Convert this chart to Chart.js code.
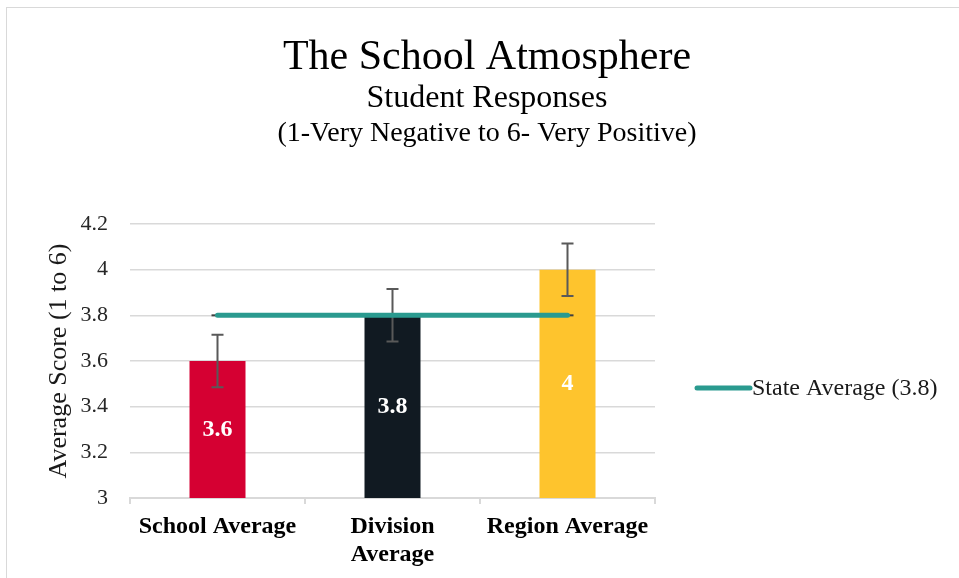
<!DOCTYPE html>
<html>
<head>
<meta charset="utf-8">
<script src="https://cdn.jsdelivr.net/npm/chart.js@4.4.1/dist/chart.umd.min.js"></script>
<style>
    html, body { margin: 0; padding: 0; background: #fff; overflow: hidden; }
    #frame {
        position: absolute; left: 6px; top: 7px;
        width: 962px; height: 580px;
        border: 1px solid #d9d9d9; box-sizing: border-box;
    }
    #chart { display: block; }
</style>
</head>
<body>
<div id="frame"><canvas id="chart" width="960" height="578"></canvas></div>
<script>
const categories = ['School Average', ['Division', 'Average'], 'Region Average'];
const averageScores = [3.6, 3.8, 4.0];
const errorAmounts = [0.115, 0.115, 0.115];
const stateAverage = [3.8, 3.8, 3.8];
const barColors = ['#d50032', '#111a22', '#fec42d'];
const stateLabel = 'State Average (3.8)';
const scaleNote = '(1-Very Negative to 6- Very Positive)';

const serif = '"Liberation Serif", "Times New Roman", serif';

const extrasPlugin = {
    id: 'extras',
    // whiskers go on after the bars but under the state line
    afterDatasetDraw(chart, args) {
        if (args.index !== 1) return;
        const ctx = chart.ctx;
        const yScale = chart.scales.y;
        const bars = chart.getDatasetMeta(1).data;
        const points = chart.getDatasetMeta(0).data;
        ctx.save();
        ctx.strokeStyle = '#595959';
        ctx.lineWidth = 2;
        bars.forEach((bar, i) => {
            const top = yScale.getPixelForValue(averageScores[i] + errorAmounts[i]);
            const bottom = yScale.getPixelForValue(averageScores[i] - errorAmounts[i]);
            ctx.beginPath();
            ctx.moveTo(bar.x, top);
            ctx.lineTo(bar.x, bottom);
            ctx.moveTo(bar.x - 6, top);
            ctx.lineTo(bar.x + 6, top);
            ctx.moveTo(bar.x - 6, bottom);
            ctx.lineTo(bar.x + 6, bottom);
            ctx.stroke();
        });
        // zero-size caps on the state line
        ctx.strokeStyle = '#404040';
        [points[0], points[points.length - 1]].forEach((p) => {
            ctx.beginPath();
            ctx.moveTo(p.x - 6, p.y);
            ctx.lineTo(p.x + 6, p.y);
            ctx.stroke();
        });
        ctx.restore();
    },
    afterDraw(chart) {
        const ctx = chart.ctx;
        const yScale = chart.scales.y;
        const bars = chart.getDatasetMeta(1).data;
        const base = yScale.getPixelForValue(yScale.min);
        ctx.save();

        // value labels inside bars
        ctx.fillStyle = '#ffffff';
        ctx.font = 'bold 24px ' + serif;
        ctx.textAlign = 'center';
        ctx.textBaseline = 'middle';
        bars.forEach((bar, i) => {
            const top = yScale.getPixelForValue(averageScores[i]);
            ctx.fillText(String(averageScores[i]), bar.x, (top + base) / 2);
        });

        // third title line
        ctx.fillStyle = '#000';
        ctx.font = '28px ' + serif;
        ctx.textBaseline = 'alphabetic';
        ctx.fillText(scaleNote, chart.width / 2, 133);

        // legend for the state line
        const area = chart.chartArea;
        const lx = area.right + 42;
        const ly = 380;
        ctx.strokeStyle = '#2a9a8f';
        ctx.lineWidth = 5;
        ctx.lineCap = 'round';
        ctx.beginPath();
        ctx.moveTo(lx, ly);
        ctx.lineTo(lx + 53, ly);
        ctx.stroke();
        ctx.fillStyle = '#1a1a1a';
        ctx.font = '24px ' + serif;
        ctx.textAlign = 'left';
        ctx.textBaseline = 'middle';
        ctx.fillText(stateLabel, lx + 55, ly + 1);
        ctx.restore();
    }
};

const chartCanvas = document.getElementById('chart');
const chartConfig = {
    type: 'bar',
    data: {
        labels: categories,
        datasets: [{
            type: 'line',
            label: stateLabel,
            data: stateAverage,
            borderColor: '#2a9a8f',
            borderWidth: 5,
            borderCapStyle: 'round',
            pointRadius: 0,
            order: 0,
        }, {
            label: 'Average Score',
            data: averageScores,
            backgroundColor: barColors,
            categoryPercentage: 1,
            barPercentage: 0.32,
            order: 1,
        }],
    },
    options: {
        responsive: false,
        animation: {
            duration: 0,
        },
        layout: {
            padding: 0,
        },
        scales: {
            x: {
                afterFit: (scale) => { scale.height = 88; },
                grid: {
                    drawOnChartArea: false,
                    color: '#d9d9d9',
                    lineWidth: 2,
                    tickLength: 6,
                },
                border: { color: '#d9d9d9', width: 2 },
                ticks: {
                    color: '#000',
                    font: { family: serif, size: 24, weight: 'bold', lineHeight: 1.15 },
                    maxRotation: 0,
                    padding: 9,
                },
            },
            y: {
                min: 3,
                max: 4.2,
                afterFit: (scale) => { scale.width = 123; },
                ticks: {
                    stepSize: 0.2,
                    color: '#262626',
                    font: { family: serif, size: 22 },
                    padding: 22,
                    callback: (value) => String(+value.toFixed(1)),
                },
                grid: {
                    color: '#d9d9d9',
                    lineWidth: 1.5,
                    drawTicks: false,
                },
                border: { display: false },
                title: {
                    display: true,
                    text: 'Average Score (1 to 6)',
                    color: '#1a1a1a',
                    font: { family: serif, size: 26 },
                    padding: { top: 37, bottom: 0 },
                },
            },
            // empty axis that keeps room for the legend on the right
            spacer: {
                type: 'linear',
                position: 'right',
                afterFit: (scale) => { scale.width = 312; },
                ticks: { display: false },
                grid: { display: false },
                border: { display: false },
            },
        },
        plugins: {
            legend: {
                display: false,
            },
            tooltip: { enabled: false },
            title: {
                display: true,
                text: 'The School Atmosphere',
                color: '#000',
                font: { family: serif, size: 42, weight: 'normal', lineHeight: 1 },
                padding: { top: 29, bottom: 4 },
            },
            subtitle: {
                display: true,
                text: 'Student Responses',
                color: '#000',
                font: { family: serif, size: 32, lineHeight: 1 },
                padding: { top: 0, bottom: 109 },
            },
        },
    },
    plugins: [extrasPlugin],
};
const chart = new Chart(chartCanvas, chartConfig);
</script>
</body>
</html>
